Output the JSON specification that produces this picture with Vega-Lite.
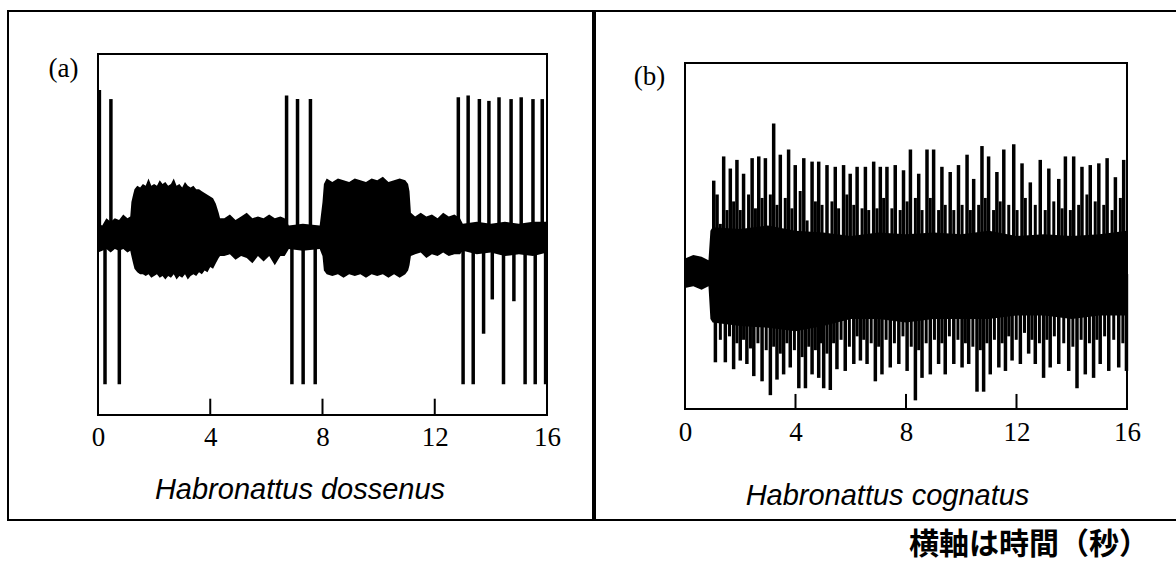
{
  "$schema": "https://vega.github.io/schema/vega-lite/v6.json",
  "padding": {"left": 7, "top": 10, "right": 0, "bottom": 0},
  "background": "white",
  "spacing": 0,
  "config": {"view": {"stroke": "black", "strokeWidth": 2}},
  "title": {"text": "横軸は時間（秒）", "orient": "bottom", "anchor": "end", "offset": 9, "dx": -29, "font": "Noto Sans CJK JP", "fontSize": 30, "fontWeight": "bold", "color": "black"},
  "datasets": {
    "coreA": [
      {"t": 0.0, "hi": 0.06, "lo": -0.10}, {"t": 0.15, "hi": 0.05, "lo": -0.09}, {"t": 0.3, "hi": 0.09, "lo": -0.08},
      {"t": 0.45, "hi": 0.07, "lo": -0.1}, {"t": 0.6, "hi": 0.09, "lo": -0.08}, {"t": 0.75, "hi": 0.08, "lo": -0.09},
      {"t": 0.9, "hi": 0.11, "lo": -0.08}, {"t": 1.05, "hi": 0.09, "lo": -0.1}, {"t": 1.15, "hi": 0.1, "lo": -0.09},
      {"t": 1.19, "hi": 0.18, "lo": -0.12}, {"t": 1.25, "hi": 0.22, "lo": -0.16}, {"t": 1.3, "hi": 0.25, "lo": -0.19},
      {"t": 1.4, "hi": 0.27, "lo": -0.21}, {"t": 1.5, "hi": 0.26, "lo": -0.22}, {"t": 1.6, "hi": 0.28, "lo": -0.22},
      {"t": 1.7, "hi": 0.27, "lo": -0.23}, {"t": 1.8, "hi": 0.31, "lo": -0.22}, {"t": 1.9, "hi": 0.27, "lo": -0.24},
      {"t": 2.0, "hi": 0.28, "lo": -0.23}, {"t": 2.1, "hi": 0.27, "lo": -0.22}, {"t": 2.2, "hi": 0.3, "lo": -0.24},
      {"t": 2.3, "hi": 0.28, "lo": -0.23}, {"t": 2.4, "hi": 0.29, "lo": -0.25}, {"t": 2.5, "hi": 0.27, "lo": -0.23},
      {"t": 2.6, "hi": 0.28, "lo": -0.24}, {"t": 2.7, "hi": 0.31, "lo": -0.22}, {"t": 2.8, "hi": 0.27, "lo": -0.25},
      {"t": 2.9, "hi": 0.28, "lo": -0.23}, {"t": 3.0, "hi": 0.26, "lo": -0.24}, {"t": 3.1, "hi": 0.29, "lo": -0.22},
      {"t": 3.2, "hi": 0.27, "lo": -0.25}, {"t": 3.3, "hi": 0.26, "lo": -0.23}, {"t": 3.4, "hi": 0.27, "lo": -0.22},
      {"t": 3.5, "hi": 0.25, "lo": -0.23}, {"t": 3.6, "hi": 0.25, "lo": -0.21}, {"t": 3.7, "hi": 0.24, "lo": -0.22},
      {"t": 3.8, "hi": 0.23, "lo": -0.2}, {"t": 3.9, "hi": 0.22, "lo": -0.21}, {"t": 4.0, "hi": 0.21, "lo": -0.18},
      {"t": 4.1, "hi": 0.2, "lo": -0.19}, {"t": 4.2, "hi": 0.17, "lo": -0.16}, {"t": 4.3, "hi": 0.12, "lo": -0.13},
      {"t": 4.35, "hi": 0.09, "lo": -0.12}, {"t": 4.5, "hi": 0.09, "lo": -0.12}, {"t": 4.7, "hi": 0.11, "lo": -0.11},
      {"t": 4.9, "hi": 0.08, "lo": -0.14}, {"t": 5.1, "hi": 0.1, "lo": -0.12}, {"t": 5.3, "hi": 0.12, "lo": -0.13},
      {"t": 5.5, "hi": 0.09, "lo": -0.16}, {"t": 5.7, "hi": 0.1, "lo": -0.12}, {"t": 5.9, "hi": 0.09, "lo": -0.15},
      {"t": 6.1, "hi": 0.11, "lo": -0.12}, {"t": 6.3, "hi": 0.09, "lo": -0.17}, {"t": 6.5, "hi": 0.1, "lo": -0.12},
      {"t": 6.65, "hi": 0.09, "lo": -0.12}, {"t": 6.8, "hi": 0.05, "lo": -0.08}, {"t": 7.3, "hi": 0.06, "lo": -0.09},
      {"t": 7.9, "hi": 0.05, "lo": -0.08}, {"t": 8.0, "hi": 0.18, "lo": -0.12}, {"t": 8.05, "hi": 0.28, "lo": -0.2},
      {"t": 8.15, "hi": 0.31, "lo": -0.22}, {"t": 8.35, "hi": 0.29, "lo": -0.23}, {"t": 8.55, "hi": 0.31, "lo": -0.22},
      {"t": 8.75, "hi": 0.3, "lo": -0.24}, {"t": 8.95, "hi": 0.29, "lo": -0.22}, {"t": 9.15, "hi": 0.31, "lo": -0.23},
      {"t": 9.35, "hi": 0.3, "lo": -0.22}, {"t": 9.55, "hi": 0.29, "lo": -0.24}, {"t": 9.75, "hi": 0.31, "lo": -0.22},
      {"t": 9.95, "hi": 0.3, "lo": -0.23}, {"t": 10.15, "hi": 0.32, "lo": -0.22}, {"t": 10.35, "hi": 0.29, "lo": -0.24},
      {"t": 10.55, "hi": 0.3, "lo": -0.22}, {"t": 10.75, "hi": 0.31, "lo": -0.24}, {"t": 10.95, "hi": 0.3, "lo": -0.22},
      {"t": 11.05, "hi": 0.28, "lo": -0.2}, {"t": 11.1, "hi": 0.24, "lo": -0.17}, {"t": 11.15, "hi": 0.12, "lo": -0.12},
      {"t": 11.3, "hi": 0.1, "lo": -0.11}, {"t": 11.5, "hi": 0.12, "lo": -0.1}, {"t": 11.7, "hi": 0.1, "lo": -0.13},
      {"t": 11.9, "hi": 0.11, "lo": -0.11}, {"t": 12.1, "hi": 0.09, "lo": -0.12}, {"t": 12.3, "hi": 0.12, "lo": -0.1},
      {"t": 12.5, "hi": 0.1, "lo": -0.12}, {"t": 12.7, "hi": 0.11, "lo": -0.11}, {"t": 12.9, "hi": 0.09, "lo": -0.11},
      {"t": 13.0, "hi": 0.06, "lo": -0.09}, {"t": 13.5, "hi": 0.07, "lo": -0.11}, {"t": 14.0, "hi": 0.06, "lo": -0.1},
      {"t": 14.5, "hi": 0.07, "lo": -0.12}, {"t": 15.0, "hi": 0.06, "lo": -0.11}, {"t": 15.5, "hi": 0.07, "lo": -0.12},
      {"t": 16.0, "hi": 0.07, "lo": -0.1}
    ],
    "spikesA": [
      {"t": 0.05, "a": 0.8}, {"t": 0.25, "a": -0.83}, {"t": 0.46, "a": 0.75}, {"t": 0.76, "a": -0.83},
      {"t": 6.72, "a": 0.77}, {"t": 6.91, "a": -0.83}, {"t": 7.11, "a": 0.75}, {"t": 7.31, "a": -0.83},
      {"t": 7.57, "a": 0.75}, {"t": 7.74, "a": -0.83}, {"t": 12.84, "a": 0.76}, {"t": 13.01, "a": -0.83},
      {"t": 13.19, "a": 0.77}, {"t": 13.37, "a": -0.83}, {"t": 13.59, "a": 0.75}, {"t": 13.74, "a": -0.55},
      {"t": 13.93, "a": 0.74}, {"t": 14.05, "a": -0.36}, {"t": 14.29, "a": 0.76}, {"t": 14.45, "a": -0.83},
      {"t": 14.72, "a": 0.75}, {"t": 14.82, "a": -0.37}, {"t": 15.08, "a": 0.76}, {"t": 15.22, "a": -0.83},
      {"t": 15.5, "a": 0.75}, {"t": 15.58, "a": -0.83}, {"t": 15.83, "a": 0.75}, {"t": 15.95, "a": -0.83}
    ],
    "coreB": [
      {"t": 0.0, "hi": -0.13, "lo": -0.3}, {"t": 0.3, "hi": -0.11, "lo": -0.29}, {"t": 0.6, "hi": -0.12, "lo": -0.31},
      {"t": 0.85, "hi": -0.14, "lo": -0.29}, {"t": 0.92, "hi": 0.03, "lo": -0.48}, {"t": 1.0, "hi": 0.05, "lo": -0.5},
      {"t": 2.0, "hi": 0.04, "lo": -0.52}, {"t": 3.0, "hi": 0.06, "lo": -0.53}, {"t": 4.0, "hi": 0.03, "lo": -0.55},
      {"t": 5.0, "hi": 0.02, "lo": -0.52}, {"t": 6.0, "hi": 0.0, "lo": -0.48}, {"t": 7.0, "hi": 0.02, "lo": -0.48},
      {"t": 8.0, "hi": 0.01, "lo": -0.5}, {"t": 9.0, "hi": 0.02, "lo": -0.48}, {"t": 10.0, "hi": 0.01, "lo": -0.48},
      {"t": 11.0, "hi": 0.03, "lo": -0.48}, {"t": 12.0, "hi": 0.0, "lo": -0.46}, {"t": 13.0, "hi": 0.01, "lo": -0.46},
      {"t": 14.0, "hi": 0.0, "lo": -0.48}, {"t": 15.0, "hi": 0.01, "lo": -0.46}, {"t": 16.0, "hi": 0.03, "lo": -0.46}
    ],
    "spikesB": [
      {"t": 1.04, "a": 0.32}, {"t": 1.16, "a": 0.24}, {"t": 1.4, "a": 0.46}, {"t": 1.64, "a": 0.39}, {"t": 1.88, "a": 0.44},
      {"t": 2.12, "a": 0.36}, {"t": 2.43, "a": 0.45}, {"t": 2.67, "a": 0.46}, {"t": 2.91, "a": 0.45}, {"t": 3.21, "a": 0.65},
      {"t": 3.45, "a": 0.47}, {"t": 3.75, "a": 0.5}, {"t": 3.99, "a": 0.41}, {"t": 4.3, "a": 0.45}, {"t": 4.6, "a": 0.43},
      {"t": 4.84, "a": 0.43}, {"t": 5.14, "a": 0.41}, {"t": 5.44, "a": 0.4}, {"t": 5.74, "a": 0.41}, {"t": 5.98, "a": 0.36},
      {"t": 6.23, "a": 0.4}, {"t": 6.53, "a": 0.4}, {"t": 6.83, "a": 0.43}, {"t": 7.07, "a": 0.4}, {"t": 7.31, "a": 0.4},
      {"t": 7.61, "a": 0.41}, {"t": 7.91, "a": 0.38}, {"t": 8.16, "a": 0.5}, {"t": 8.46, "a": 0.36}, {"t": 8.76, "a": 0.5},
      {"t": 9.0, "a": 0.5}, {"t": 9.3, "a": 0.4}, {"t": 9.6, "a": 0.37}, {"t": 9.9, "a": 0.41}, {"t": 10.21, "a": 0.47},
      {"t": 10.45, "a": 0.33}, {"t": 10.75, "a": 0.52}, {"t": 10.99, "a": 0.46}, {"t": 11.29, "a": 0.37}, {"t": 11.54, "a": 0.5},
      {"t": 11.9, "a": 0.53}, {"t": 12.2, "a": 0.42}, {"t": 12.5, "a": 0.31}, {"t": 12.86, "a": 0.44}, {"t": 13.17, "a": 0.39},
      {"t": 13.53, "a": 0.33}, {"t": 13.77, "a": 0.46}, {"t": 14.07, "a": 0.46}, {"t": 14.37, "a": 0.4}, {"t": 14.67, "a": 0.41},
      {"t": 14.98, "a": 0.42}, {"t": 15.28, "a": 0.45}, {"t": 15.58, "a": 0.34}, {"t": 15.88, "a": 0.44},
      {"t": 1.1, "a": -0.73}, {"t": 1.46, "a": -0.73}, {"t": 1.76, "a": -0.77}, {"t": 2.0, "a": -0.72}, {"t": 2.24, "a": -0.74},
      {"t": 2.49, "a": -0.81}, {"t": 2.79, "a": -0.84}, {"t": 3.09, "a": -0.92}, {"t": 3.33, "a": -0.83}, {"t": 3.57, "a": -0.8},
      {"t": 3.81, "a": -0.76}, {"t": 4.12, "a": -0.88}, {"t": 4.36, "a": -0.88}, {"t": 4.6, "a": -0.8}, {"t": 4.84, "a": -0.82},
      {"t": 5.02, "a": -0.88}, {"t": 5.26, "a": -0.89}, {"t": 5.5, "a": -0.77}, {"t": 5.8, "a": -0.78}, {"t": 6.11, "a": -0.74},
      {"t": 6.35, "a": -0.72}, {"t": 6.59, "a": -0.74}, {"t": 6.89, "a": -0.84}, {"t": 7.13, "a": -0.8}, {"t": 7.43, "a": -0.76},
      {"t": 7.74, "a": -0.74}, {"t": 8.04, "a": -0.78}, {"t": 8.34, "a": -0.95}, {"t": 8.58, "a": -0.82}, {"t": 8.88, "a": -0.8},
      {"t": 9.18, "a": -0.74}, {"t": 9.42, "a": -0.8}, {"t": 9.73, "a": -0.74}, {"t": 10.03, "a": -0.76}, {"t": 10.27, "a": -0.74},
      {"t": 10.57, "a": -0.9}, {"t": 10.81, "a": -0.9}, {"t": 11.05, "a": -0.8}, {"t": 11.36, "a": -0.76}, {"t": 11.6, "a": -0.78},
      {"t": 11.84, "a": -0.72}, {"t": 12.14, "a": -0.74}, {"t": 12.44, "a": -0.68}, {"t": 12.68, "a": -0.74}, {"t": 12.98, "a": -0.82},
      {"t": 13.22, "a": -0.76}, {"t": 13.53, "a": -0.74}, {"t": 13.89, "a": -0.78}, {"t": 14.19, "a": -0.88}, {"t": 14.49, "a": -0.8},
      {"t": 14.79, "a": -0.82}, {"t": 15.03, "a": -0.74}, {"t": 15.34, "a": -0.78}, {"t": 15.7, "a": -0.76}, {"t": 15.98, "a": -0.78}
    ],
    "midB": [
      {"t": 1.28, "a": 0.07}, {"t": 1.52, "a": 0.15}, {"t": 1.76, "a": 0.2}, {"t": 2.0, "a": 0.15}, {"t": 2.3, "a": 0.24},
      {"t": 2.55, "a": 0.16}, {"t": 2.79, "a": 0.22}, {"t": 3.09, "a": 0.24}, {"t": 3.33, "a": 0.18}, {"t": 3.63, "a": 0.22},
      {"t": 3.87, "a": 0.16}, {"t": 4.17, "a": 0.26}, {"t": 4.42, "a": 0.09}, {"t": 4.72, "a": 0.2}, {"t": 4.96, "a": 0.18},
      {"t": 5.32, "a": 0.2}, {"t": 5.56, "a": 0.16}, {"t": 5.86, "a": 0.24}, {"t": 6.11, "a": 0.18}, {"t": 6.41, "a": 0.16},
      {"t": 6.65, "a": 0.15}, {"t": 6.95, "a": 0.16}, {"t": 7.19, "a": 0.22}, {"t": 7.49, "a": 0.16}, {"t": 7.79, "a": 0.15},
      {"t": 8.04, "a": 0.2}, {"t": 8.34, "a": 0.22}, {"t": 8.58, "a": 0.15}, {"t": 8.88, "a": 0.22}, {"t": 9.18, "a": 0.15},
      {"t": 9.42, "a": 0.18}, {"t": 9.73, "a": 0.15}, {"t": 10.03, "a": 0.18}, {"t": 10.33, "a": 0.15}, {"t": 10.63, "a": 0.18},
      {"t": 10.87, "a": 0.22}, {"t": 11.17, "a": 0.15}, {"t": 11.41, "a": 0.2}, {"t": 11.72, "a": 0.18}, {"t": 12.02, "a": 0.15},
      {"t": 12.32, "a": 0.22}, {"t": 12.68, "a": 0.18}, {"t": 13.04, "a": 0.15}, {"t": 13.35, "a": 0.2}, {"t": 13.65, "a": 0.16},
      {"t": 13.95, "a": 0.15}, {"t": 14.25, "a": 0.18}, {"t": 14.55, "a": 0.24}, {"t": 14.85, "a": 0.2}, {"t": 15.16, "a": 0.18},
      {"t": 15.46, "a": 0.15}, {"t": 15.76, "a": 0.22},
      {"t": 1.28, "a": -0.6}, {"t": 1.61, "a": -0.58}, {"t": 1.88, "a": -0.62}, {"t": 2.12, "a": -0.6}, {"t": 2.37, "a": -0.65},
      {"t": 2.64, "a": -0.62}, {"t": 2.94, "a": -0.66}, {"t": 3.21, "a": -0.64}, {"t": 3.45, "a": -0.68}, {"t": 3.69, "a": -0.62},
      {"t": 3.96, "a": -0.66}, {"t": 4.24, "a": -0.7}, {"t": 4.48, "a": -0.64}, {"t": 4.72, "a": -0.66}, {"t": 4.93, "a": -0.62},
      {"t": 5.14, "a": -0.68}, {"t": 5.38, "a": -0.62}, {"t": 5.65, "a": -0.6}, {"t": 5.95, "a": -0.64}, {"t": 6.23, "a": -0.58},
      {"t": 6.47, "a": -0.6}, {"t": 6.74, "a": -0.62}, {"t": 7.01, "a": -0.64}, {"t": 7.28, "a": -0.6}, {"t": 7.58, "a": -0.62},
      {"t": 7.89, "a": -0.58}, {"t": 8.19, "a": -0.64}, {"t": 8.46, "a": -0.66}, {"t": 8.73, "a": -0.62}, {"t": 9.03, "a": -0.6},
      {"t": 9.3, "a": -0.62}, {"t": 9.57, "a": -0.58}, {"t": 9.88, "a": -0.6}, {"t": 10.15, "a": -0.62}, {"t": 10.42, "a": -0.64},
      {"t": 10.69, "a": -0.66}, {"t": 10.93, "a": -0.62}, {"t": 11.2, "a": -0.6}, {"t": 11.48, "a": -0.62}, {"t": 11.72, "a": -0.58},
      {"t": 11.99, "a": -0.6}, {"t": 12.29, "a": -0.56}, {"t": 12.56, "a": -0.6}, {"t": 12.83, "a": -0.62}, {"t": 13.1, "a": -0.6},
      {"t": 13.37, "a": -0.58}, {"t": 13.71, "a": -0.62}, {"t": 14.04, "a": -0.64}, {"t": 14.34, "a": -0.6}, {"t": 14.64, "a": -0.62},
      {"t": 14.91, "a": -0.6}, {"t": 15.19, "a": -0.58}, {"t": 15.52, "a": -0.6}, {"t": 15.85, "a": -0.62}
    ],
    "ticks": [{"t": 4}, {"t": 8}, {"t": 12}],
    "one": [{"k": 1}]
  },
  "hconcat": [
    {
      "width": 585,
      "height": 509,
      "layer": [
        {
          "data": {"name": "one"},
          "mark": {"type": "rect", "filled": false, "color": "black", "strokeWidth": 2},
          "encoding": {
            "x": {"datum": 0, "type": "quantitative", "scale": {"domain": [-3.207, 17.639], "nice": false, "zero": false}},
            "x2": {"datum": 16},
            "y": {"datum": -1, "type": "quantitative", "scale": {"domain": [-1.582, 1.238], "nice": false, "zero": false}},
            "y2": {"datum": 1}
          }
        },
        {
          "data": {"name": "coreA"},
          "mark": {"type": "area", "color": "black", "interpolate": "linear"},
          "encoding": {
            "x": {"field": "t", "type": "quantitative", "scale": {"domain": [-3.207, 17.639], "nice": false, "zero": false},
              "axis": {"values": [0, 4, 8, 12, 16], "domain": false, "ticks": false, "tickSize": 0, "grid": false, "labelPadding": 0, "labelBaseline": "middle", "labelAngle": 0, "labelFont": "Liberation Serif", "labelFontSize": 27, "labelColor": "black", "labelFlush": false, "labelOverlap": false, "offset": -83,
                "title": "Habronattus dossenus", "titleFont": "Liberation Sans", "titleFontStyle": "italic", "titleFontSize": 29, "titleFontWeight": "normal", "titleColor": "black", "titleX": 291.5, "titleY": 61, "titleAlign": "center", "titleBaseline": "alphabetic"}},
            "y": {"field": "hi", "type": "quantitative", "scale": {"domain": [-1.582, 1.238], "nice": false, "zero": false},
              "axis": {"domain": false, "ticks": false, "labels": false, "grid": false, "title": "(a)", "titleAngle": 0, "titleX": 55, "titleY": 57, "titleAlign": "center", "titleBaseline": "middle", "titleFont": "Liberation Serif", "titleFontSize": 27, "titleFontWeight": "normal", "titleColor": "black"}},
            "y2": {"field": "lo"}
          }
        },
        {
          "data": {"name": "spikesA"},
          "mark": {"type": "rule", "color": "black", "strokeWidth": 3.5},
          "encoding": {
            "x": {"field": "t", "type": "quantitative", "scale": {"domain": [-3.207, 17.639], "nice": false, "zero": false}},
            "y": {"field": "a", "type": "quantitative", "scale": {"domain": [-1.582, 1.238], "nice": false, "zero": false}},
            "y2": {"datum": -0.02}
          }
        },
        {
          "data": {"name": "ticks"},
          "mark": {"type": "rule", "color": "black", "strokeWidth": 2},
          "encoding": {
            "x": {"field": "t", "type": "quantitative", "scale": {"domain": [-3.207, 17.639], "nice": false, "zero": false}},
            "y": {"datum": -1, "type": "quantitative", "scale": {"domain": [-1.582, 1.238], "nice": false, "zero": false}},
            "y2": {"datum": -0.91}
          }
        }
      ]
    },
    {
      "width": 582,
      "height": 509,
      "layer": [
        {
          "data": {"name": "one"},
          "mark": {"type": "rect", "filled": false, "color": "black", "strokeWidth": 2},
          "encoding": {
            "x": {"datum": 0, "type": "quantitative", "scale": {"domain": [-3.258, 17.81], "nice": false, "zero": false}},
            "x2": {"datum": 16},
            "y": {"datum": -1, "type": "quantitative", "scale": {"domain": [-1.6416, 1.3006], "nice": false, "zero": false}},
            "y2": {"datum": 1}
          }
        },
        {
          "data": {"name": "coreB"},
          "mark": {"type": "area", "color": "black", "interpolate": "linear"},
          "encoding": {
            "x": {"field": "t", "type": "quantitative", "scale": {"domain": [-3.258, 17.81], "nice": false, "zero": false},
              "axis": {"values": [0, 4, 8, 12, 16], "domain": false, "ticks": false, "tickSize": 0, "grid": false, "labelPadding": 0, "labelBaseline": "middle", "labelAngle": 0, "labelFont": "Liberation Serif", "labelFontSize": 27, "labelColor": "black", "labelFlush": false, "labelOverlap": false, "offset": -88,
                "title": "Habronattus cognatus", "titleFont": "Liberation Sans", "titleFontStyle": "italic", "titleFontSize": 29, "titleFontWeight": "normal", "titleColor": "black", "titleX": 292, "titleY": 72, "titleAlign": "center", "titleBaseline": "alphabetic"}},
            "y": {"field": "hi", "type": "quantitative", "scale": {"domain": [-1.6416, 1.3006], "nice": false, "zero": false},
              "axis": {"domain": false, "ticks": false, "labels": false, "grid": false, "title": "(b)", "titleAngle": 0, "titleX": 54, "titleY": 65, "titleAlign": "center", "titleBaseline": "middle", "titleFont": "Liberation Serif", "titleFontSize": 27, "titleFontWeight": "normal", "titleColor": "black"}},
            "y2": {"field": "lo"}
          }
        },
        {
          "data": {"name": "midB"},
          "mark": {"type": "rule", "color": "black", "strokeWidth": 3},
          "encoding": {
            "x": {"field": "t", "type": "quantitative", "scale": {"domain": [-3.258, 17.81], "nice": false, "zero": false}},
            "y": {"field": "a", "type": "quantitative", "scale": {"domain": [-1.6416, 1.3006], "nice": false, "zero": false}},
            "y2": {"datum": -0.22}
          }
        },
        {
          "data": {"name": "spikesB"},
          "mark": {"type": "rule", "color": "black", "strokeWidth": 3.5},
          "encoding": {
            "x": {"field": "t", "type": "quantitative", "scale": {"domain": [-3.258, 17.81], "nice": false, "zero": false}},
            "y": {"field": "a", "type": "quantitative", "scale": {"domain": [-1.6416, 1.3006], "nice": false, "zero": false}},
            "y2": {"datum": -0.22}
          }
        },
        {
          "data": {"name": "ticks"},
          "mark": {"type": "rule", "color": "black", "strokeWidth": 2},
          "encoding": {
            "x": {"field": "t", "type": "quantitative", "scale": {"domain": [-3.258, 17.81], "nice": false, "zero": false}},
            "y": {"datum": -1, "type": "quantitative", "scale": {"domain": [-1.6416, 1.3006], "nice": false, "zero": false}},
            "y2": {"datum": -0.913}
          }
        }
      ]
    }
  ]
}
